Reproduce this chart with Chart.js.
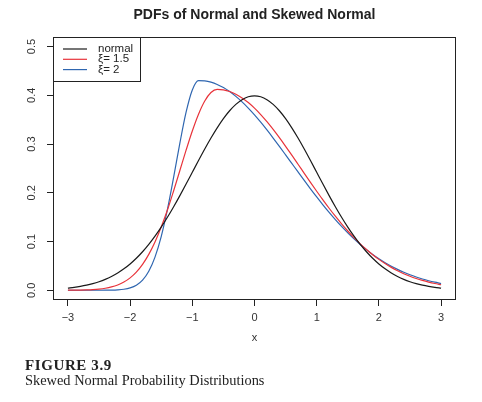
<!DOCTYPE html>
<html>
<head>
<meta charset="utf-8">
<script src="https://cdn.jsdelivr.net/npm/chart.js@4/dist/chart.umd.min.js"></script>
<style>
  html, body { margin: 0; padding: 0; background: #fff; }
  #wrap { position: relative; width: 482px; height: 402px; }
  #c { position: absolute; left: 0; top: 0; }
  .cap { position: absolute; left: 25px; font-family: "Liberation Serif", "Times New Roman", serif; color: #222; line-height: 1; white-space: nowrap; }
  #cap1 { top: 357.5px; font-size: 15px; font-weight: bold; letter-spacing: 0.6px; }
  #cap2 { top: 372.5px; font-size: 14.4px; }
</style>
</head>
<body>
<div id="wrap">
  <canvas id="c" width="482" height="402"></canvas>
  <div class="cap" id="cap1">FIGURE 3.9</div>
  <div class="cap" id="cap2">Skewed Normal Probability Distributions</div>
</div>
<script>
const xValues = [-3.0,-2.9,-2.8,-2.7,-2.6,-2.5,-2.4,-2.3,-2.2,-2.1,-2.0,-1.9,-1.8,-1.7,-1.6,-1.5,-1.4,-1.3,-1.2,-1.1,-1.0,-0.9,-0.8,-0.7,-0.6,-0.5,-0.4,-0.3,-0.2,-0.1,0.0,0.1,0.2,0.3,0.4,0.5,0.6,0.7,0.8,0.9,1.0,1.1,1.2,1.3,1.4,1.5,1.6,1.7,1.8,1.9,2.0,2.1,2.2,2.3,2.4,2.5,2.6,2.7,2.8,2.9,3.0];

const normalPdf = [0.00443,0.00595,0.00792,0.01042,0.01358,0.01753,0.02239,0.02833,0.03547,0.04398,0.05399,0.06562,0.07895,0.09405,0.11092,0.12952,0.14973,0.17137,0.19419,0.21785,0.24197,0.26609,0.28969,0.31225,0.33322,0.35207,0.36827,0.38139,0.39104,0.39695,0.39894,0.39695,0.39104,0.38139,0.36827,0.35207,0.33322,0.31225,0.28969,0.26609,0.24197,0.21785,0.19419,0.17137,0.14973,0.12952,0.11092,0.09405,0.07895,0.06562,0.05399,0.04398,0.03547,0.02833,0.02239,0.01753,0.01358,0.01042,0.00792,0.00595,0.00443];

const skew15Pdf = [0.00012,0.00023,0.00043,0.00080,0.00142,0.00247,0.00417,0.00683,0.01089,0.01689,0.02545,0.03729,0.05313,0.07358,0.09907,0.12970,0.16466,0.20425,0.24571,0.28737,0.32676,0.36122,0.38823,0.40566,0.41209,0.41110,0.40781,0.40231,0.39467,0.38504,0.37355,0.36039,0.34577,0.32990,0.31301,0.29534,0.27711,0.25857,0.23993,0.22140,0.20317,0.18541,0.16826,0.15184,0.13627,0.12161,0.10793,0.09526,0.08361,0.07298,0.06334,0.05466,0.04692,0.04006,0.03400,0.02870,0.02409,0.02011,0.01670,0.01378,0.01131];

const skew2Pdf = [0.00000,0.00000,0.00000,0.00000,0.00001,0.00003,0.00011,0.00031,0.00084,0.00206,0.00479,0.01037,0.02088,0.03910,0.06805,0.11014,0.16575,0.23196,0.30184,0.36527,0.41101,0.43005,0.42953,0.42685,0.42226,0.41583,0.40764,0.39780,0.38644,0.37370,0.35974,0.34473,0.32886,0.31229,0.29521,0.27779,0.26023,0.24267,0.22526,0.20816,0.19149,0.17535,0.15984,0.14505,0.13103,0.11782,0.10547,0.09398,0.08337,0.07361,0.06471,0.05662,0.04932,0.04277,0.03692,0.03172,0.02714,0.02310,0.01958,0.01653,0.01388];

const seriesLabels = ["normal", "\u03BE= 1.5", "\u03BE= 2"];
const seriesColors = ["#1a1a1a", "#e8333a", "#2f66b0"];
const xTicks = [-3, -2, -1, 0, 1, 2, 3];
const yTicks = [0.0, 0.1, 0.2, 0.3, 0.4, 0.5];

const seriesData = [normalPdf, skew15Pdf, skew2Pdf];
const datasets = seriesData.map((arr, i) => ({
  label: seriesLabels[i],
  data: xValues.map((x, j) => ({ x: x, y: arr[j] })),
  borderColor: seriesColors[i],
  backgroundColor: seriesColors[i],
  borderWidth: 1.2,
  pointRadius: 0,
  fill: false,
  cubicInterpolationMode: 'monotone'
}));

const sansFont = '"Liberation Sans", Arial, Helvetica, sans-serif';

const boxAndLegend = {
  id: 'boxAndLegend',
  afterDraw(chart) {
    const ctx = chart.ctx;
    const a = chart.chartArea;
    ctx.save();
    ctx.strokeStyle = '#222';
    ctx.lineWidth = 1;
    ctx.strokeRect(Math.round(a.left) + 0.5, Math.round(a.top) + 0.5, Math.round(a.right - a.left) - 1, Math.round(a.bottom - a.top) - 1);
    // legend
    const lx = Math.round(a.left), ly = Math.round(a.top);
    ctx.strokeRect(lx + 0.5, ly + 0.5, 87, 44);
    ctx.font = '11.5px ' + sansFont;
    ctx.textBaseline = 'middle';
    ctx.textAlign = 'left';
    chart.data.datasets.forEach((ds, i) => {
      const y = ly + 12 + i * 10.3;
      ctx.strokeStyle = ds.borderColor;
      ctx.lineWidth = 1.2;
      ctx.beginPath();
      ctx.moveTo(lx + 10, y);
      ctx.lineTo(lx + 34, y);
      ctx.stroke();
      ctx.fillStyle = '#222';
      ctx.fillText(ds.label, lx + 45, y);
    });
    ctx.restore();
  }
};

new Chart(document.getElementById('c'), {
  type: 'line',
  data: { datasets: datasets },
  plugins: [boxAndLegend],
  options: {
    responsive: false,
    animation: false,
    events: [],
    layout: { padding: { left: 0, right: 26, top: 0, bottom: 56 } },
    plugins: {
      legend: { display: false },
      tooltip: { enabled: false },
      title: {
        display: true,
        text: 'PDFs of Normal and Skewed Normal',
        fullSize: false,
        color: '#222',
        font: { family: sansFont, size: 14, weight: 'bold' },
        padding: { top: 7, bottom: 13 }
      }
    },
    scales: {
      x: {
        type: 'linear',
        min: -3.24,
        max: 3.24,
        afterBuildTicks: s => { s.ticks = xTicks.map(v => ({ value: v })); },
        afterFit: s => { s.height = 46; },
        grid: { display: true, drawOnChartArea: false, drawTicks: true, tickLength: 6, color: '#222' },
        border: { display: false },
        ticks: {
          color: '#333',
          font: { family: sansFont, size: 11 },
          padding: 5,
          maxRotation: 0,
          callback: v => (v < 0 ? '\u2212' + Math.abs(v) : String(v))
        },
        title: {
          display: true,
          text: 'x',
          color: '#333',
          font: { family: sansFont, size: 11 },
          padding: { top: 0, bottom: 1 }
        }
      },
      y: {
        type: 'linear',
        min: -0.02,
        max: 0.52,
        afterBuildTicks: s => { s.ticks = yTicks.map(v => ({ value: v })); },
        afterFit: s => { s.width = 53; },
        grid: { display: true, drawOnChartArea: false, drawTicks: true, tickLength: 6, color: '#222' },
        border: { display: false },
        ticks: {
          color: '#333',
          font: { family: sansFont, size: 11 },
          padding: 7,
          minRotation: 90,
          maxRotation: 90,
          crossAlign: 'center',
          callback: v => Number(v).toFixed(1)
        }
      }
    }
  }
});
</script>
</body>
</html>
